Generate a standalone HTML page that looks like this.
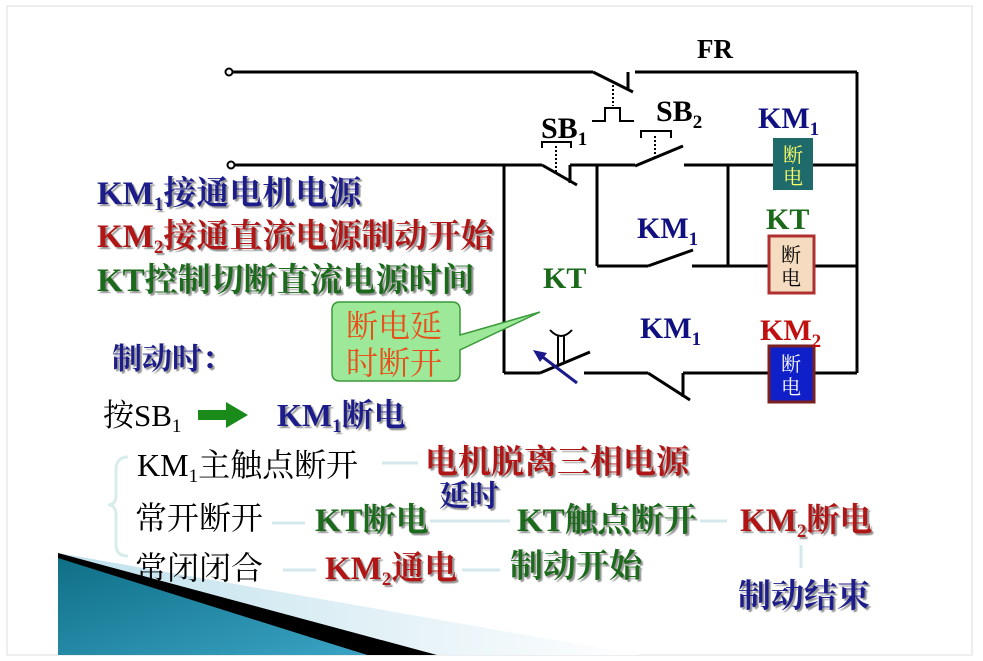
<!DOCTYPE html>
<html><head><meta charset="utf-8"><style>
body{margin:0;width:983px;height:661px;background:#fff;overflow:hidden;}
svg{display:block}
text{font-family:"Liberation Serif","Noto Serif CJK SC","Noto Sans CJK SC",serif;}
.b{font-weight:bold}
</style></head><body>
<svg width="983" height="661" viewBox="0 0 983 661" xmlns="http://www.w3.org/2000/svg">
<defs>
<linearGradient id="tg" x1="0" y1="0" x2="1" y2="1"><stop offset="0" stop-color="#0f6f86"/><stop offset="1" stop-color="#3aa3c4"/></linearGradient>
<linearGradient id="lg" x1="0" y1="0" x2="1" y2="0"><stop offset="0" stop-color="#bfe0ec"/><stop offset="1" stop-color="#ffffff"/></linearGradient>
<filter id="sh"><feDropShadow dx="2" dy="2" stdDeviation="0.6" flood-color="#777" flood-opacity="0.8"/></filter>
</defs>
<rect x="7" y="6" width="965" height="649" fill="#fff" stroke="#ddd"/>
<polygon points="58,553 640,655 437,655" fill="url(#lg)"/>
<polygon points="58,553 437,655 367,655 58,560" fill="#000"/>
<polygon points="58,558 367,655 58,655" fill="url(#tg)"/>

<g stroke="#000" stroke-width="3" fill="none">
<line x1="232" y1="72" x2="593" y2="72"/>
<line x1="593" y1="72" x2="633" y2="92"/>
<line x1="628" y1="72" x2="628" y2="90"/>
<line x1="635" y1="72" x2="857" y2="72"/>
<line x1="857" y1="72" x2="857" y2="373"/>
<line x1="613" y1="85" x2="613" y2="106" stroke-dasharray="2,2" stroke-width="2"/>
<polyline points="592,121 605,121 605,108 620,108 620,121 634,121" stroke-width="2"/>
<line x1="234" y1="165" x2="542" y2="165"/>
<line x1="504" y1="165" x2="504" y2="373"/>
<line x1="542" y1="165" x2="577" y2="185"/>
<line x1="570" y1="165" x2="570" y2="183"/>
<line x1="570" y1="165" x2="635" y2="165"/>
<line x1="635" y1="166" x2="683" y2="146"/>
<line x1="684" y1="165" x2="857" y2="165"/>
<line x1="556" y1="146" x2="556" y2="172" stroke-dasharray="2,2" stroke-width="2"/>
<polyline points="542,148 542,142 571,142 571,148" stroke-width="2"/>
<line x1="655" y1="136" x2="655" y2="160" stroke-dasharray="2,2" stroke-width="2"/>
<polyline points="641,138 641,131 671,131 671,138" stroke-width="2"/>
<line x1="597" y1="165" x2="597" y2="266"/>
<line x1="597" y1="266" x2="648" y2="266"/>
<line x1="648" y1="266" x2="693" y2="250"/>
<line x1="692" y1="266" x2="857" y2="266"/>
<line x1="728" y1="165" x2="728" y2="266"/>
<line x1="504" y1="373" x2="540" y2="373"/>
<line x1="540" y1="373" x2="590" y2="352"/>
<line x1="558" y1="335" x2="558" y2="364" stroke-width="2"/>
<line x1="564" y1="335" x2="564" y2="364" stroke-width="2"/>
<path d="M550,330 Q561,342 572,330" stroke-width="2"/>
<line x1="584" y1="373" x2="648" y2="373"/>
<line x1="648" y1="373" x2="690" y2="400"/>
<line x1="683" y1="373" x2="683" y2="397"/>
<line x1="683" y1="373" x2="857" y2="373"/>
</g>
<line x1="577" y1="383" x2="540" y2="355" stroke="#1a1a8c" stroke-width="3"/>
<polygon points="533,350 547,353 540,362" fill="#1a1a8c"/>
<circle cx="229" cy="72" r="3.5" fill="#fff" stroke="#000" stroke-width="2"/>
<circle cx="231" cy="165" r="3.5" fill="#fff" stroke="#000" stroke-width="2"/>

<rect x="773" y="138" width="40" height="52" fill="#1f6b6b"/>
<text x="793" y="162" font-size="20" fill="#ffff66" text-anchor="middle" font-family="Noto Sans CJK SC,sans-serif">断</text>
<text x="793" y="184" font-size="20" fill="#ffff66" text-anchor="middle" font-family="Noto Sans CJK SC,sans-serif">电</text>
<rect x="769" y="236" width="45" height="57" fill="#f5dcc0" stroke="#b03030" stroke-width="3"/>
<text x="791" y="262" font-size="20" fill="#000" text-anchor="middle" font-family="Noto Sans CJK SC,sans-serif">断</text>
<text x="791" y="285" font-size="20" fill="#000" text-anchor="middle" font-family="Noto Sans CJK SC,sans-serif">电</text>
<rect x="769" y="346" width="45" height="56" fill="#1020c8" stroke="#7a2020" stroke-width="3"/>
<text x="791" y="371" font-size="20" fill="#fff" text-anchor="middle" font-family="Noto Sans CJK SC,sans-serif">断</text>
<text x="791" y="394" font-size="20" fill="#fff" text-anchor="middle" font-family="Noto Sans CJK SC,sans-serif">电</text>

<g class="b" font-size="30">
<text x="697" y="58" fill="#000" font-size="27">FR</text>
<text x="541" y="138" fill="#000">SB<tspan font-size="19" dy="7">1</tspan></text>
<text x="656" y="121" fill="#000">SB<tspan font-size="19" dy="7">2</tspan></text>
<text x="758" y="128" fill="#101080">KM<tspan font-size="19" dy="7">1</tspan></text>
<text x="766" y="229" fill="#1a6a1a">KT</text>
<text x="760" y="340" fill="#c01010">KM<tspan font-size="19" dy="7">2</tspan></text>
<text x="637" y="238" fill="#101080">KM<tspan font-size="19" dy="7">1</tspan></text>
<text x="640" y="338" fill="#101080">KM<tspan font-size="19" dy="7">1</tspan></text>
<text x="543" y="288" fill="#1a6a1a">KT</text>
</g>

<path d="M340,302 H452 Q460,302 460,310 V335 L540,312 L460,350 V373 Q460,381 452,381 H340 Q332,381 332,373 V310 Q332,302 340,302 Z" fill="#9ee89a" stroke="#3a9a3a" stroke-width="1.5"/>
<text x="346" y="337" font-size="32" fill="#e8501a" font-family="Noto Sans CJK SC,sans-serif">断电延</text>
<text x="346" y="374" font-size="32" fill="#e8501a" font-family="Noto Sans CJK SC,sans-serif">时断开</text>

<g class="b" font-size="33" filter="url(#sh)">
<text x="97" y="204" fill="#1a1a8a">KM<tspan font-size="19" dy="6">1</tspan><tspan dy="-6">接通电机电源</tspan></text>
<text x="97" y="247" fill="#b01515">KM<tspan font-size="19" dy="6">2</tspan><tspan dy="-6">接通直流电源制动开始</tspan></text>
<text x="97" y="291" fill="#1a6a1a">KT控制切断直流电源时间</text>
<text x="112" y="369" font-size="30" fill="#1a1a8a">制动时：</text>
<text x="277" y="426" font-size="32" fill="#1a1a8a">KM<tspan font-size="19" dy="6">1</tspan><tspan dy="-6">断电</tspan></text>
</g>
<text x="103" y="426" font-size="31" fill="#000">按SB<tspan font-size="19" dy="6">1</tspan></text>
<polygon points="198,410 226,410 226,402 248,415 226,428 226,420 198,420" fill="#1a8a1a"/>

<path d="M128,457 Q116,457 116,470 V495 Q116,505 108,505 Q116,505 116,515 V545 Q116,556 128,556" stroke="#d8ecec" stroke-width="3" fill="none"/>
<g stroke="#d5e8ec" stroke-width="3" fill="none">
<line x1="382" y1="463" x2="418" y2="463"/>
<line x1="272" y1="523" x2="305" y2="523"/>
<line x1="430" y1="521" x2="510" y2="521"/>
<line x1="700" y1="521" x2="727" y2="521"/>
<line x1="283" y1="570" x2="316" y2="570"/>
<line x1="462" y1="570" x2="500" y2="570"/>
<line x1="801" y1="545" x2="801" y2="568"/>
</g>
<g font-size="32" fill="#000" font-family="Liberation Serif,Noto Sans CJK SC,serif">
<text x="137" y="476">KM<tspan font-size="19" dy="6">1</tspan><tspan dy="-6">主触点断开</tspan></text>
<text x="135" y="529">常开断开</text>
<text x="135" y="579">常闭闭合</text>
</g>
<g class="b" font-size="33" filter="url(#sh)">
<text x="425" y="473" fill="#b01515">电机脱离三相电源</text>
<text x="439" y="506" fill="#1a1a8a" font-size="30">延时</text>
<text x="315" y="531" fill="#1a6a1a">KT断电</text>
<text x="517" y="531" fill="#1a6a1a">KT触点断开</text>
<text x="740" y="531" fill="#b01515">KM<tspan font-size="19" dy="6">2</tspan><tspan dy="-6">断电</tspan></text>
<text x="325" y="579" fill="#b01515">KM<tspan font-size="19" dy="6">2</tspan><tspan dy="-6">通电</tspan></text>
<text x="510" y="577" fill="#1a6a1a">制动开始</text>
<text x="738" y="607" fill="#1a1a8a">制动结束</text>
</g>
</svg>
</body></html>
